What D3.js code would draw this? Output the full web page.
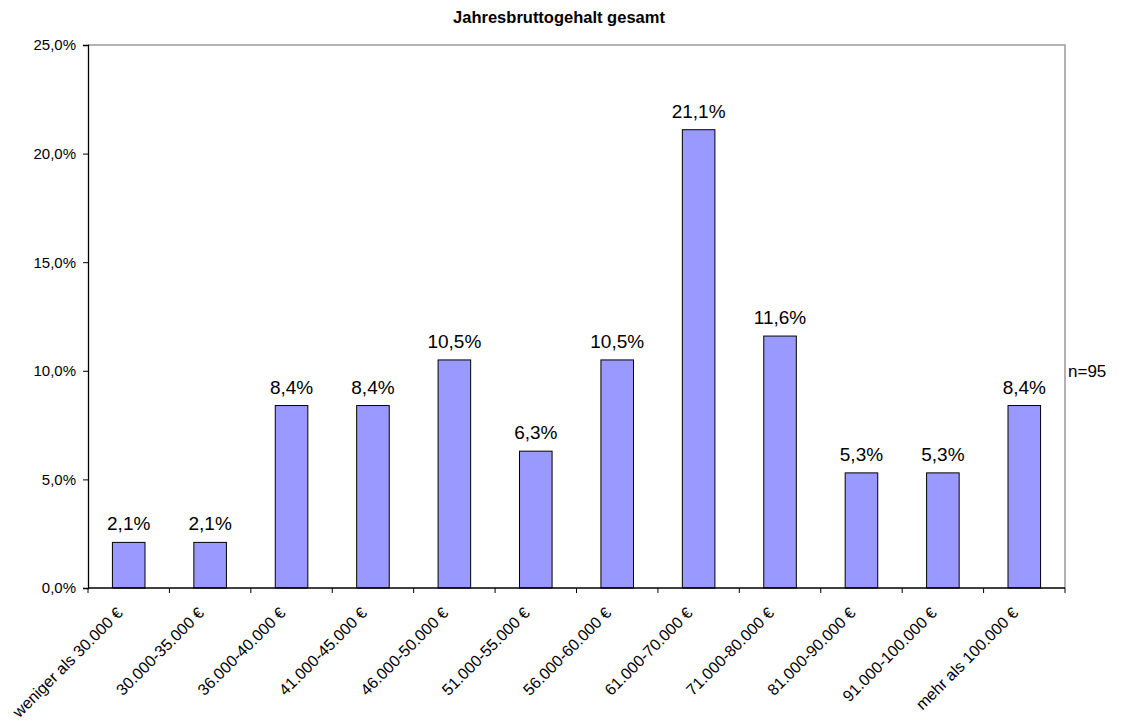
<!DOCTYPE html>
<html>
<head>
<meta charset="utf-8">
<script src="https://cdn.jsdelivr.net/npm/d3@7"></script>
<style>
  body { margin: 0; background: #fff; }
  text { font-family: "Liberation Sans", Arial, sans-serif; fill: #000; }
</style>
</head>
<body>
<svg id="chart" width="1131" height="720"></svg>
<script>
// Salary bands and share of respondents (%)
const categories = [
  "weniger als 30.000 €", "30.000-35.000 €", "36.000-40.000 €", "41.000-45.000 €",
  "46.000-50.000 €", "51.000-55.000 €", "56.000-60.000 €", "61.000-70.000 €",
  "71.000-80.000 €", "81.000-90.000 €", "91.000-100.000 €", "mehr als 100.000 €"
];
const values = [2.1, 2.1, 8.4, 8.4, 10.5, 6.3, 10.5, 21.1, 11.6, 5.3, 5.3, 8.4];
const yTicks = [0, 5, 10, 15, 20, 25];
const title = "Jahresbruttogehalt gesamt";
const note = "n=95";

const svg = d3.select("#chart");
const plotLeft = 88, plotRight = 1065, plotTop = 45, plotBottom = 588;

const x = d3.scaleBand().domain(categories).range([plotLeft, plotRight]).paddingInner(0.6).paddingOuter(0.3);
const y = d3.scaleLinear().domain([0, 25]).range([plotBottom, plotTop]);
const fmt = v => v.toFixed(1).replace(".", ",") + "%";

// plot frame (top and right edges)
svg.append("path")
  .attr("d", `M${plotLeft},${plotTop}H${plotRight}V${plotBottom}`)
  .attr("fill", "none").attr("stroke", "#999").attr("stroke-width", 1.5);

// bars
svg.append("g").selectAll("rect").data(values).join("rect")
  .attr("x", (d, i) => x(categories[i]))
  .attr("y", d => y(d))
  .attr("width", x.bandwidth())
  .attr("height", d => y(0) - y(d))
  .attr("fill", "#9999ff")
  .attr("stroke", "#000")
  .attr("stroke-width", 1);

// value labels
svg.append("g").selectAll("text").data(values).join("text")
  .attr("x", (d, i) => x(categories[i]) + x.bandwidth() / 2)
  .attr("y", d => y(d) - 12)
  .attr("text-anchor", "middle")
  .attr("font-size", 19)
  .text(d => fmt(d));

// y axis
const yAxis = svg.append("g").attr("transform", `translate(${plotLeft},0)`)
  .call(d3.axisLeft(y).tickValues(yTicks).tickSize(5).tickPadding(7).tickFormat(fmt));
yAxis.select(".domain").attr("stroke", "#000").attr("stroke-width", 1.3);
yAxis.selectAll(".tick line").attr("stroke", "#000");
yAxis.selectAll(".tick text").attr("font-size", 15).attr("font-family", "Liberation Sans, Arial, sans-serif");

// x axis: ticks at band boundaries
const boundaries = d3.range(categories.length + 1).map(i => plotLeft + i * (plotRight - plotLeft) / categories.length);
const xg = svg.append("g");
xg.append("line").attr("x1", plotLeft).attr("x2", plotRight).attr("y1", plotBottom).attr("y2", plotBottom)
  .attr("stroke", "#000").attr("stroke-width", 1.3);
xg.selectAll("line.t").data(boundaries).join("line").attr("class", "t")
  .attr("x1", d => d).attr("x2", d => d).attr("y1", plotBottom).attr("y2", plotBottom + 5)
  .attr("stroke", "#000");
xg.selectAll("text").data(categories).join("text")
  .attr("transform", d => `translate(${x(d) + x.bandwidth() / 2 - 5},${plotBottom + 26}) rotate(-45)`)
  .attr("text-anchor", "end")
  .attr("font-size", 16)
  .text(d => d);

// title
svg.append("text").attr("x", 559).attr("y", 23).attr("text-anchor", "middle")
  .attr("font-size", 16.5).attr("font-weight", "bold").text(title);

// sample size
svg.append("text").attr("x", 1068).attr("y", 377).attr("font-size", 17).text(note);
</script>
</body>
</html>
